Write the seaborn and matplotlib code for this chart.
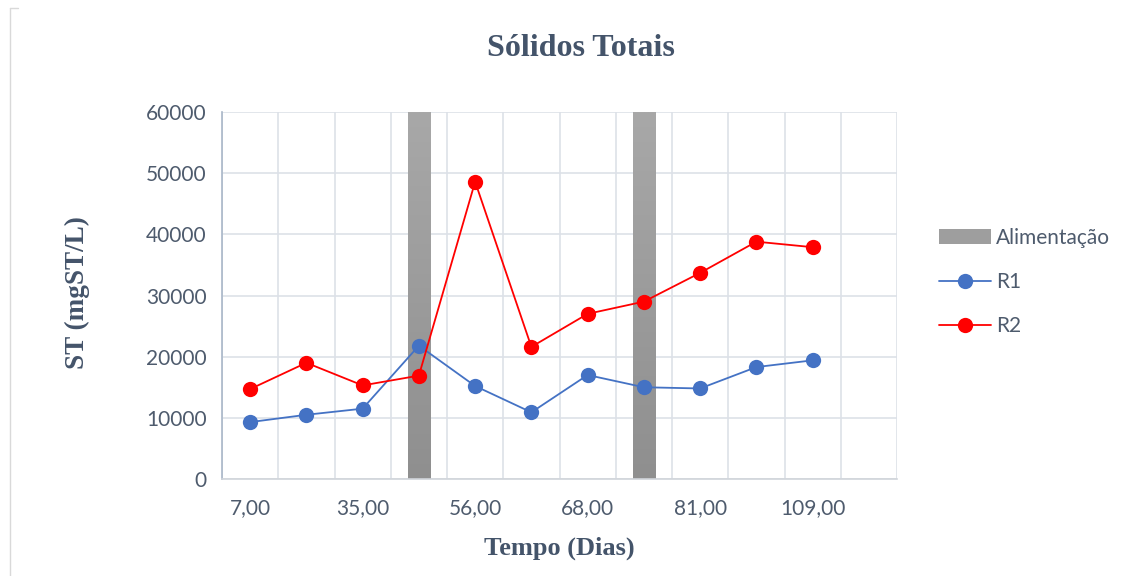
import matplotlib
matplotlib.use('Agg')
import matplotlib.pyplot as plt
import seaborn as sns
import numpy as np
import pandas as pd
from matplotlib.lines import Line2D
from matplotlib.patches import Patch

# data (12 category slots, last one empty)
tick_labels = ["7,00", "", "35,00", "", "56,00", "", "68,00", "", "81,00", "", "109,00", ""]
r1 = [9300, 10500, 11500, 21800, 15200, 10900, 17000, 15000, 14800, 18300, 19400, np.nan]
r2 = [14700, 19000, 15300, 16900, 48600, 21600, 27000, 29000, 33700, 38800, 37900, np.nan]
alimentacao = [np.nan, np.nan, np.nan, 60000, np.nan, np.nan, np.nan, 60000, np.nan, np.nan, np.nan, np.nan]

df = pd.DataFrame({"pos": np.arange(len(tick_labels)), "R1": r1, "R2": r2, "Alimentação": alimentacao})

sns.set_theme(style="white")
txt_col = "#44546A"
tick_col = "#4E5B6D"
grid_col = "#DDE1E8"
sans = ["Lato", "DejaVu Sans"]
serif = ["Liberation Serif", "DejaVu Serif"]

fig = plt.figure(figsize=(11.46, 5.76), dpi=100)
ax = fig.add_axes([222 / 1146, 1 - 479 / 576, (897 - 222) / 1146, (479 - 112) / 576])

# feed bars, gradient filled
sns.barplot(data=df, x="pos", y="Alimentação", color="#9A9A9A", width=0.4, ax=ax, zorder=2)
grad = np.linspace(0, 1, 256).reshape(-1, 1)
cmap = matplotlib.colors.LinearSegmentedColormap.from_list("g", ["#A8A8A8", "#8F8F8F"])
for p in list(ax.patches):
    h = p.get_height()
    if not np.isfinite(h) or h == 0:
        continue
    x0, w = p.get_x(), p.get_width()
    im = ax.imshow(grad, cmap=cmap, aspect="auto", extent=(x0, x0 + w, 0, h), origin="upper", zorder=2)
    im.set_clip_path(p)
    p.set_facecolor("none")
    p.set_edgecolor("none")

# series lines
sns.lineplot(data=df, x="pos", y="R1", color="#4472C4", lw=1.3, marker="o", markersize=11,
             markeredgewidth=0, ax=ax, zorder=4)
sns.lineplot(data=df, x="pos", y="R2", color="#FF0000", lw=1.3, marker="o", markersize=11,
             markeredgewidth=0, ax=ax, zorder=5)

n = len(tick_labels)
ax.set_xlim(-0.5, n - 0.5)
ax.set_ylim(0, 60000)
ax.set_yticks(np.arange(0, 60001, 10000))
ax.set_xticks(np.arange(n))
ax.set_xticklabels(tick_labels)
ax.set_xticks(np.arange(-0.5, n, 1), minor=True)
ax.tick_params(axis="x", which="major", length=0, pad=14, labelsize=15, labelcolor=tick_col)
ax.tick_params(axis="x", which="minor", length=6, width=1, color="#D0D4DA", direction="out")
ax.tick_params(axis="y", length=6, width=1, color="#A9B6C8", pad=5, labelsize=15, labelcolor=tick_col)
for lab in ax.get_xticklabels() + ax.get_yticklabels():
    lab.set_family(sans)

ax.grid(True, axis="y", color=grid_col, lw=1.2, zorder=0)
ax.grid(True, axis="x", which="minor", color=grid_col, lw=1.2, zorder=0)
ax.set_axisbelow(True)
for s in ["top", "right"]:
    ax.spines[s].set_visible(False)
ax.spines["left"].set_color("#A9B6C8")
ax.spines["bottom"].set_color("#D0D4DA")
ax.spines["left"].set_linewidth(1.2)
ax.spines["bottom"].set_linewidth(1.2)

ax.set_xlabel("Tempo (Dias)", fontsize=19, fontweight="bold", color=txt_col, family=serif, va="center")
ax.xaxis.set_label_coords(0.5, -(548 - 479) / 367)
ax.set_ylabel("ST (mgST/L)", fontsize=19.5, fontweight="bold", color=txt_col, family=serif,
              va="center", ha="center")
ax.yaxis.set_label_coords(-(222 - 77) / 675, 0.5 + (367 / 2 - (293 - 112)) / 367)
fig.text(581 / 1146, 1 - 48 / 576, "Sólidos Totais", ha="center", va="center", fontsize=23,
         fontweight="bold", color=txt_col, family=serif)

handles = [Patch(facecolor="#9E9E9E", edgecolor="none"),
           Line2D([], [], color="#4472C4", lw=1.3, marker="o", markersize=11, markeredgewidth=0),
           Line2D([], [], color="#FF0000", lw=1.3, marker="o", markersize=11, markeredgewidth=0)]
leg = fig.legend(handles, ["Alimentação", "R1", "R2"], loc="center left",
                 bbox_to_anchor=(920 / 1146, 1 - 282 / 576), frameon=False,
                 prop={"family": sans, "size": 15}, labelspacing=1.15, handlelength=2.5,
                 handletextpad=0.25)
for t in leg.get_texts():
    t.set_color(tick_col)

# chart area outline (partially visible in the reference)
fig.add_artist(Line2D([10 / 1146, 10 / 1146], [0, 1 - 8 / 576], transform=fig.transFigure,
                      color="#D9D9D9", lw=1))
fig.add_artist(Line2D([10 / 1146, 18 / 1146], [1 - 8 / 576, 1 - 8 / 576], transform=fig.transFigure,
                      color="#D9D9D9", lw=1))

fig.savefig("out.png", dpi=100)
